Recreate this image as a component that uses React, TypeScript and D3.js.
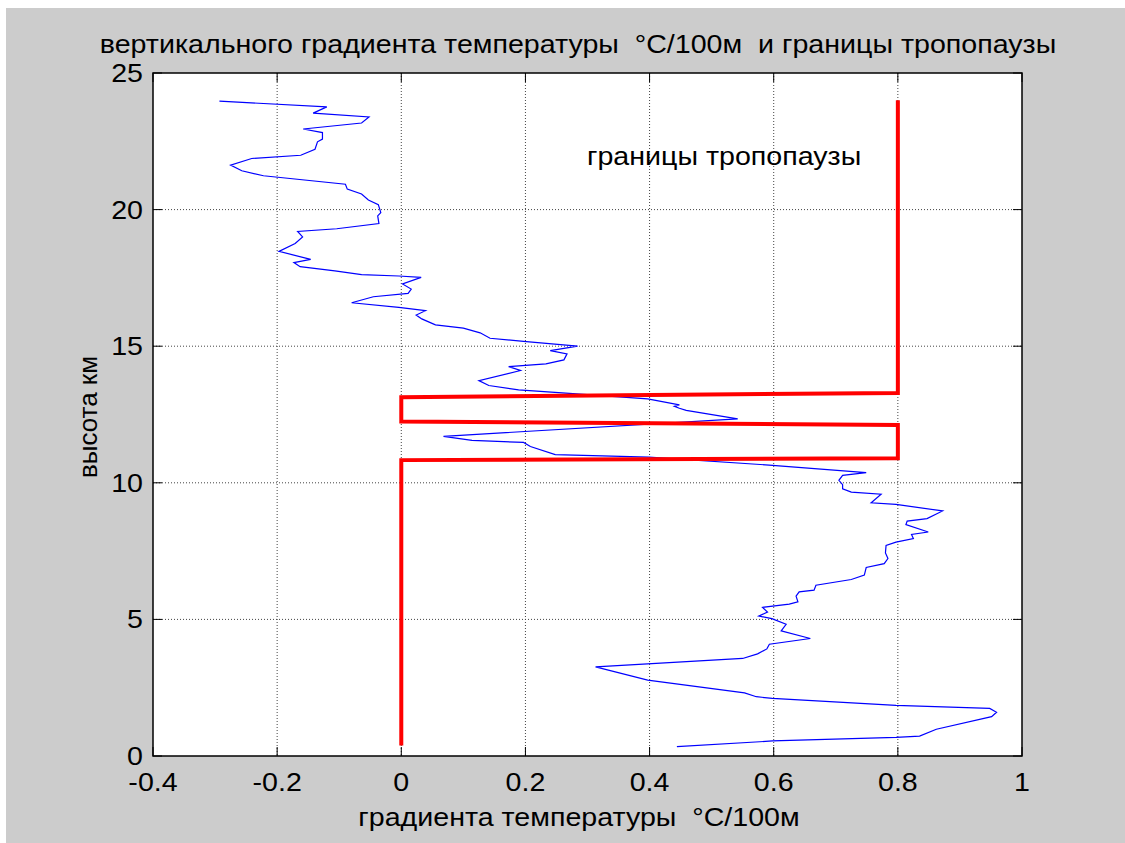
import { scaleLinear, line as d3Line } from "d3";

// blue profile: temperature gradient (°C/100m) vs height (km), read top to bottom
const gradX = [
  -0.293, -0.12, -0.142, -0.052, -0.064, -0.158, -0.127, -0.127, -0.135, -0.139,
  -0.162, -0.241, -0.275, -0.257, -0.222, -0.09, -0.087, -0.064, -0.053, -0.037,
  -0.033, -0.038, -0.036, -0.104, -0.167, -0.159, -0.171, -0.197, -0.146, -0.173,
  -0.163, -0.107, -0.064, -0.004, 0.032, 0.002, 0.016, 0.011, -0.045, -0.08,
  -0.004, 0.039, 0.024, 0.033, 0.055, 0.1, 0.127, 0.143, 0.197, 0.284,
  0.24, 0.267, 0.262, 0.233, 0.173, 0.192, 0.125, 0.141, 0.189, 0.265,
  0.397, 0.448, 0.44, 0.448, 0.459, 0.542, 0.068, 0.114, 0.197, 0.208,
  0.248, 0.399, 0.598, 0.749, 0.711, 0.705, 0.711, 0.711, 0.725, 0.773,
  0.757, 0.797, 0.872, 0.847, 0.815, 0.813, 0.849, 0.822, 0.825, 0.797,
  0.781, 0.78, 0.784, 0.778, 0.749, 0.746, 0.725, 0.668, 0.665, 0.641,
  0.636, 0.639, 0.625, 0.582, 0.59, 0.576, 0.597, 0.62, 0.612, 0.659,
  0.593, 0.589, 0.574, 0.55, 0.313, 0.397, 0.553, 0.572, 0.598, 0.797,
  0.948, 0.959, 0.951, 0.862, 0.835, 0.797, 0.598, 0.444,
];
const heightKm = [
  23.97, 23.76, 23.53, 23.39, 23.17, 22.95, 22.82, 22.58, 22.48, 22.21,
  21.99, 21.87, 21.63, 21.42, 21.24, 20.93, 20.75, 20.57, 20.35, 20.18,
  19.89, 19.77, 19.49, 19.3, 19.2, 19.0, 18.76, 18.47, 18.18, 18.06,
  17.91, 17.76, 17.62, 17.57, 17.52, 17.28, 17.09, 16.93, 16.81, 16.59,
  16.42, 16.3, 16.14, 16.0, 15.78, 15.66, 15.49, 15.29, 15.18, 15.0,
  14.84, 14.72, 14.5, 14.35, 14.25, 14.11, 13.74, 13.56, 13.4, 13.28,
  13.07, 12.85, 12.8, 12.73, 12.65, 12.34, 11.7, 11.55, 11.48, 11.33,
  11.03, 10.94, 10.64, 10.37, 10.27, 10.09, 9.93, 9.78, 9.66, 9.58,
  9.27, 9.21, 8.97, 8.69, 8.6, 8.47, 8.2, 8.11, 7.96, 7.83,
  7.71, 7.43, 7.23, 7.04, 6.9, 6.62, 6.46, 6.25, 6.07, 6.01,
  5.85, 5.64, 5.56, 5.44, 5.27, 5.12, 5.03, 4.82, 4.58, 4.3,
  4.09, 3.92, 3.74, 3.57, 3.26, 2.78, 2.31, 2.17, 2.11, 1.85,
  1.74, 1.6, 1.44, 0.98, 0.73, 0.68, 0.55, 0.34,
];

// red tropopause boundary line
const tropoX = [0, 0, 0.8, 0.8, 0, 0, 0.8, 0.8];
const tropoY = [0.38, 10.83, 10.9, 12.12, 12.24, 13.13, 13.29, 24];

const xTicks = [-0.4, -0.2, 0, 0.2, 0.4, 0.6, 0.8, 1];
const yTicks = [0, 5, 10, 15, 20, 25];

const TITLE = "вертикального градиента температуры  °C/100м  и границы тропопаузы";
const X_LABEL = "градиента температуры  °C/100м";
const Y_LABEL = "высота км";
const NOTE = "границы тропопаузы";

const W = 1125;
const H = 843;
const PLOT = { left: 153, right: 1022, top: 73, bottom: 756 };
const FONT = "'Liberation Sans', Arial, sans-serif";
const TICK = 9;
const FS = 26;
const SX = 1.1; // the reference text is a little wider than it is tall

// horizontal text, stretched a bit along x around its anchor
const Txt = ({ x, y, anchor, children, baseline }: any) => (
  <text
    transform={`translate(${x}, ${y}) scale(${SX}, 1)`}
    textAnchor={anchor}
    dominantBaseline={baseline}
    style={{ whiteSpace: "pre" }}
  >
    {children}
  </text>
);

export default function App() {
  const x = scaleLinear().domain([-0.4, 1]).range([PLOT.left, PLOT.right]);
  const y = scaleLinear().domain([0, 25]).range([PLOT.bottom, PLOT.top]);

  const mkLine = d3Line<[number, number]>()
    .x((d) => x(d[0]))
    .y((d) => y(d[1]));
  const blue = mkLine(gradX.map((v, i) => [v, heightKm[i]]));
  const red = mkLine(tropoX.map((v, i) => [v, tropoY[i]]));

  return (
    <svg
      width={W}
      height={H}
      style={{ position: "absolute", left: 0, top: 0 }}
      fontFamily={FONT}
      fontSize={FS}
    >
      <rect x={0} y={0} width={W} height={H} fill="#fff" />
      <rect x={6} y={8} width={W - 6} height={H - 8} fill="#cccccc" />
      <rect
        x={PLOT.left}
        y={PLOT.top}
        width={PLOT.right - PLOT.left}
        height={PLOT.bottom - PLOT.top}
        fill="#fff"
      />

      {/* grid */}
      <g stroke="#444" strokeWidth={1} strokeDasharray="1,2">
        {xTicks.slice(1, -1).map((t) => (
          <line key={"gx" + t} x1={x(t)} x2={x(t)} y1={PLOT.top} y2={PLOT.bottom} />
        ))}
        {yTicks.slice(1, -1).map((t) => (
          <line key={"gy" + t} x1={PLOT.left} x2={PLOT.right} y1={y(t)} y2={y(t)} />
        ))}
      </g>

      {/* data */}
      <path d={blue ?? ""} fill="none" stroke="#0000ff" strokeWidth={1.2} />
      <path d={red ?? ""} fill="none" stroke="#ff0000" strokeWidth={4} />

      {/* frame and inward ticks */}
      <rect
        x={PLOT.left}
        y={PLOT.top}
        width={PLOT.right - PLOT.left}
        height={PLOT.bottom - PLOT.top}
        fill="none"
        stroke="#000"
        strokeWidth={1.5}
      />
      <g stroke="#000" strokeWidth={1}>
        {xTicks.map((t) => (
          <g key={"tx" + t}>
            <line x1={x(t)} x2={x(t)} y1={PLOT.bottom} y2={PLOT.bottom - TICK} />
            <line x1={x(t)} x2={x(t)} y1={PLOT.top} y2={PLOT.top + TICK} />
          </g>
        ))}
        {yTicks.map((t) => (
          <g key={"ty" + t}>
            <line x1={PLOT.left} x2={PLOT.left + TICK} y1={y(t)} y2={y(t)} />
            <line x1={PLOT.right} x2={PLOT.right - TICK} y1={y(t)} y2={y(t)} />
          </g>
        ))}
      </g>

      {/* tick labels */}
      <g fill="#000">
        {xTicks.map((t) => (
          <Txt key={"lx" + t} x={x(t)} y={791} anchor="middle">
            {String(t)}
          </Txt>
        ))}
        {yTicks.map((t) => (
          <Txt key={"ly" + t} x={PLOT.left - 10} y={y(t)} anchor="end" baseline="central">
            {String(t)}
          </Txt>
        ))}
      </g>

      <Txt x={578} y={53} anchor="middle">
        {TITLE}
      </Txt>
      <Txt x={579} y={826} anchor="middle">
        {X_LABEL}
      </Txt>
      <text transform="translate(97, 417) rotate(-90)" textAnchor="middle">
        {Y_LABEL}
      </text>
      <Txt x={587} y={165} anchor="start">
        {NOTE}
      </Txt>
    </svg>
  );
}
